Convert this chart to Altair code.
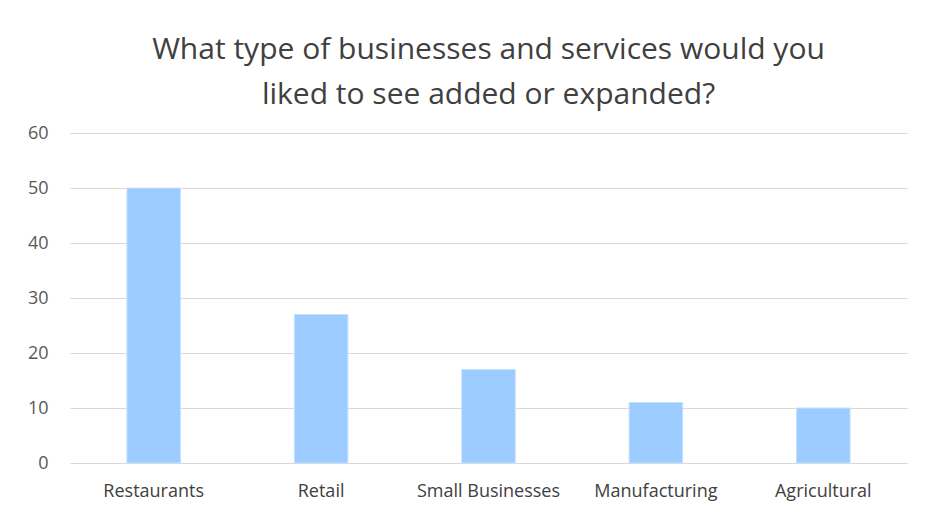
import altair as alt
import pandas as pd

categories = ["Restaurants", "Retail", "Small Businesses", "Manufacturing", "Agricultural"]
values = [50, 27, 17, 11, 10]

df = pd.DataFrame({"category": categories, "value": values})

chart = alt.Chart(df).mark_bar(color="#9CCBFF", stroke="#C6E2FF", strokeWidth=1).encode(
    x=alt.X("category:N", sort=categories, title=None,
            scale=alt.Scale(paddingInner=0.68, paddingOuter=0.34),
            axis=alt.Axis(labelAngle=0, labelPadding=19, ticks=False, domain=False,
                          labelFontSize=18, labelColor="#404040", labelFont="Open Sans")),
    y=alt.Y("value:Q", title=None,
            scale=alt.Scale(domain=[0, 60]),
            axis=alt.Axis(values=[0, 10, 20, 30, 40, 50, 60], ticks=False, domain=False,
                          labelPadding=22, labelFontSize=18, labelColor="#595959",
                          labelFont="Open Sans", gridColor="#D9D9D9", gridWidth=1)),
).properties(
    width=837,
    height=330,
    title=alt.TitleParams(
        text=["What type of businesses and services would you", "liked to see added or expanded?"],
        fontSize=30, font="Open Sans", fontWeight="normal", color="#404040",
        anchor="middle", lineHeight=45, offset=14,
    ),
    autosize=alt.AutoSizeParams(type="none"),
    padding={"left": 62, "top": 125, "right": 22, "bottom": 50},
).configure(background="white").configure_view(stroke=None)

chart.save("out.html", embed_options={"renderer": "svg", "actions": False})
